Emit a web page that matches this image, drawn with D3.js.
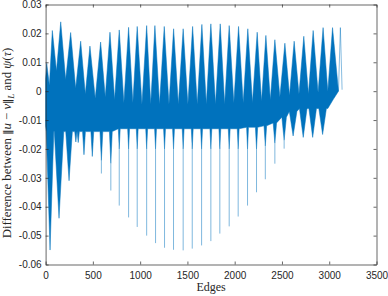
<!DOCTYPE html>
<html>
<head>
<meta charset="utf-8">
<script src="https://cdn.jsdelivr.net/npm/d3@7"></script>
<style>
  body { margin: 0; background: #fff; }
  .axis text { font-family: "Liberation Sans", Arial, sans-serif; font-size: 10px; fill: #262626; }
  .axis path, .axis line { stroke: #262626; stroke-width: 0.7; }
  .lbl { font-family: "Liberation Serif", "Times New Roman", serif; fill: #262626; }
  .bars { font-family: "DejaVu Sans", sans-serif; font-size: 10.5px; }
</style>
</head>
<body>
<svg id="chart" width="388" height="296"></svg>
<script>
const WIDTH  = 388;
const HEIGHT = 296;
const BLUE   = "#0072BD";

// tick labels
const xTicks = [0, 500, 1000, 1500, 2000, 2500, 3000, 3500];
const yTicks = [-0.06, -0.05, -0.04, -0.03, -0.02, -0.01, 0, 0.01, 0.02, 0.03];

// upper envelope of the dense band: peaks and the valley after each one
const peakEdge = [12, 71, 160, 265, 371, 469, 582, 681, 779, 878, 969, 1069, 1156, 1255, 1354, 1455,
                  1555, 1653, 1748, 1847, 1942, 2041, 2139, 2238, 2330, 2425, 2531, 2629, 2731, 2830, 2935, 3035];
const peakVal  = [0.0096, 0.021, 0.024, 0.0203, 0.0173, 0.0156, 0.017, 0.0204, 0.0212, 0.0221, 0.0224, 0.0227,
                  0.0227, 0.0224, 0.0216, 0.0216, 0.0224, 0.0231, 0.0233, 0.0233, 0.0227, 0.0224, 0.0216, 0.0204,
                  0.0193, 0.0178, 0.0166, 0.0173, 0.019, 0.021, 0.022, 0.022];
const valleyEdge = [40, 115, 212, 318, 420, 525, 631, 730, 828, 923, 1019, 1112, 1205, 1305, 1404, 1505,
                    1604, 1700, 1797, 1894, 1991, 2090, 2188, 2284, 2377, 2478, 2580, 2680, 2780, 2882, 2985, 3098];
const valleyVal  = [0.002, 0.007, 0.004, 0.001, -0.001, -0.0025, -0.002, -0.003, -0.004, -0.004, -0.0045, -0.0045,
                    -0.0045, -0.0045, -0.0045, -0.0045, -0.0045, -0.0045, -0.0045, -0.0045, -0.004, -0.004, -0.004, -0.0035,
                    -0.003, -0.002, -0.0015, -0.001, -0.001, -0.0005, 0.0, 0.0];

// lower side: downward spikes (dark wedge, then a thin single-sample drop)
const spikeEdge  = [47, 142, 248, 320, 345, 406, 494, 590, 690, 779, 878, 969, 1069, 1163, 1258, 1353,
                    1455, 1551, 1650, 1748, 1843, 1942, 2037, 2136, 2231, 2324, 2425, 2523, 2618, 2725, 2825, 2930];
const spikeDark  = [-0.055, -0.044, -0.031, -0.0176, -0.0178, -0.022, -0.0226, -0.024, -0.025, -0.02, -0.02, -0.02,
                    -0.02, -0.02, -0.02, -0.02, -0.02, -0.02, -0.02, -0.02, -0.02, -0.02, -0.02, -0.02,
                    -0.02, -0.019, -0.018, -0.017, -0.0155, -0.016, -0.016, -0.015];
const spikeLight = [-0.055, -0.044, -0.031, -0.0176, -0.0178, -0.022, -0.0226, -0.0285, -0.0344, -0.0396, -0.0437, -0.047,
                    -0.050, -0.0526, -0.0542, -0.0549, -0.0551, -0.0545, -0.0534, -0.0519, -0.0493, -0.0468, -0.0434, -0.0396,
                    -0.035, -0.0305, -0.0251, -0.0199, -0.0155, -0.016, -0.016, -0.015];
const spikeHalf  = [40, 50, 35, 12, 12, 15, 15, 15, 15, 10, 10, 10, 10, 10, 10, 10,
                    10, 10, 10, 10, 10, 10, 10, 10, 12, 14, 18, 24, 40, 40, 40, 40];
const bandLow    = [-0.014, -0.014, -0.014, -0.014, -0.014, -0.014, -0.014, -0.014, -0.014, -0.013, -0.013, -0.013,
                    -0.013, -0.013, -0.013, -0.013, -0.013, -0.013, -0.013, -0.013, -0.013, -0.013, -0.013, -0.0125,
                    -0.0125, -0.012, -0.011, -0.009, -0.007, -0.006, -0.006, -0.006];

// where the band starts, how its lower side closes, and the last lone spike
const startVal      = [0.004, -0.012];
const lowerTailEdge = [2985, 3040];
const lowerTailVal  = [-0.006, -0.003];
const tailEdge      = [3098, 3118, 3136];
const tailVal       = [0.0, 0.022, 0.0005];

const margin = { top: 4.5, right: 11.5, bottom: 31.5, left: 45.6 };

const svg = d3.select("#chart");

const x = d3.scaleLinear().domain([0, 3500]).range([margin.left, WIDTH - margin.right]);
const y = d3.scaleLinear().domain([-0.06, 0.03]).range([HEIGHT - margin.bottom, margin.top]);

// build band outline
const upper = [[0, startVal[0]]];
peakEdge.forEach((e, i) => {
  upper.push([e, peakVal[i]]);
  upper.push([valleyEdge[i], valleyVal[i]]);
});

const lower = [[0, startVal[1]]];
spikeEdge.forEach((e, i) => {
  lower.push([e - spikeHalf[i], bandLow[i]]);
  lower.push([e, spikeDark[i]]);
  lower.push([e + spikeHalf[i], bandLow[i]]);
});
lowerTailEdge.forEach((e, i) => lower.push([e, lowerTailVal[i]]));
lower.push([valleyEdge[valleyEdge.length - 1], valleyVal[valleyVal.length - 1]]);

const line = d3.line().x(d => x(d[0])).y(d => y(d[1]));

const plot = svg.append("g");

plot.append("path")
  .attr("d", line(upper.concat(lower.slice().reverse())) + "Z")
  .attr("fill", BLUE)
  .attr("stroke", BLUE)
  .attr("stroke-width", 0.5);

// thin drops
plot.selectAll(".drop")
  .data(spikeEdge.map((e, i) => ({ e, top: spikeDark[i], bottom: spikeLight[i] })).filter(d => d.bottom < d.top))
  .join("line")
  .attr("class", "drop")
  .attr("x1", d => x(d.e)).attr("x2", d => x(d.e))
  .attr("y1", d => y(d.top)).attr("y2", d => y(d.bottom))
  .attr("stroke", BLUE)
  .attr("stroke-opacity", 0.5)
  .attr("stroke-width", 1);

plot.append("path")
  .attr("d", line(tailEdge.map((e, i) => [e, tailVal[i]])))
  .attr("fill", "none")
  .attr("stroke", BLUE)
  .attr("stroke-opacity", 0.6)
  .attr("stroke-width", 0.8);

// axes, MATLAB style box with inward ticks
const yFmt = d => d === 0 ? "0" : d.toFixed(2);

svg.append("g").attr("class", "axis")
  .attr("transform", `translate(0,${y(-0.06)})`)
  .call(d3.axisBottom(x).tickValues(xTicks).tickSize(-3).tickSizeOuter(0).tickPadding(7).tickFormat(d3.format("d")));
svg.append("g").attr("class", "axis")
  .attr("transform", `translate(0,${y(0.03)})`)
  .call(d3.axisTop(x).tickValues(xTicks).tickSize(-3).tickSizeOuter(0).tickFormat(""));
svg.append("g").attr("class", "axis")
  .attr("transform", `translate(${x(0)},0)`)
  .call(d3.axisLeft(y).tickValues(yTicks).tickSize(-3).tickSizeOuter(0).tickPadding(4).tickFormat(yFmt));
svg.append("g").attr("class", "axis")
  .attr("transform", `translate(${x(3500)},0)`)
  .call(d3.axisRight(y).tickValues(yTicks).tickSize(-3).tickSizeOuter(0).tickFormat(""));

// labels
svg.append("text").attr("class", "lbl")
  .attr("x", (x(0) + x(3500)) / 2).attr("y", 291)
  .attr("text-anchor", "middle")
  .attr("font-size", 12)
  .text("Edges");

const yl = svg.append("text").attr("class", "lbl")
  .attr("transform", "translate(11,143) rotate(-90)")
  .attr("text-anchor", "middle")
  .attr("font-size", 12.8);
yl.append("tspan").text("Difference between ");
yl.append("tspan").attr("class", "bars").text("\u2016");
yl.append("tspan").attr("font-style", "italic").text("u");
yl.append("tspan").text(" \u2212 ");
yl.append("tspan").attr("font-style", "italic").text("v");
yl.append("tspan").attr("class", "bars").text("\u2016");
yl.append("tspan").attr("font-style", "italic").attr("font-size", 9).attr("dy", 3).text("L");
yl.append("tspan").attr("dy", -3).text(" and ");
yl.append("tspan").attr("font-style", "italic").text("\u03C8");
yl.append("tspan").text("(");
yl.append("tspan").attr("font-style", "italic").text("\u03C4");
yl.append("tspan").text(")");
</script>
</body>
</html>
